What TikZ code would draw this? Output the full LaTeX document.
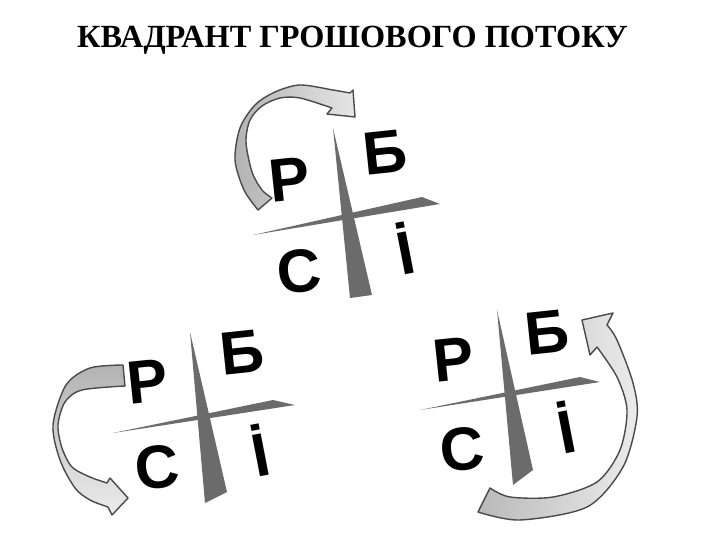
\documentclass[tikz,border=0pt]{standalone}
\usepackage{fontspec}
\setmainfont{Liberation Serif}
\newfontfamily\lettfont{Liberation Sans}
\definecolor{wedgegray}{HTML}{6B6B6B}
\definecolor{bandline}{HTML}{4A4A4A}
\tikzset{
  letter/.style={font=\lettfont\bfseries\fontsize{61}{61}\selectfont, inner sep=0pt, rotate=6},
  iletter/.style={letter, rotate=5},
  wedge/.style={fill=wedgegray, draw=none},
  band/.style={draw=bandline, line width=1.4pt, line join=round},
}
\begin{document}
\begin{tikzpicture}[x=1pt,y=-1pt]
\useasboundingbox (0,0) rectangle (720,540);
\fill[white] (0,0) rectangle (720,540);

\node[font=\bfseries\fontsize{32.3}{32.3}\selectfont, inner sep=0pt] (title) at (352.5,40) {КВАДРАНТ ГРОШОВОГО ПОТОКУ};

% top group
\fill[wedge] (333,128) -- (350,298) -- (372,295) -- cycle;
\fill[wedge] (253,235) -- (422,197) -- (440,204) -- cycle;
\node[letter] (p1) at (290,180) {Р};
\node[letter] (b1) at (385,152) {Б};
\node[letter] (s1) at (299,271) {С};
\node[iletter] (i1) at (405,248) {İ};

% left group
\fill[wedge] (190,332) -- (205,503) -- (227,492) -- cycle;
\fill[wedge] (113,433) -- (273,400) -- (295,405) -- cycle;
\node[letter] (p2) at (148,382) {Р};
\node[letter] (b2) at (242,352) {Б};
\node[letter] (s2) at (157,467) {С};
\node[iletter] (i2) at (260,450) {İ};

% right group
\fill[wedge] (497,310) -- (513,485) -- (533,470) -- cycle;
\fill[wedge] (420,410) -- (580,377) -- (600,382) -- cycle;
\node[letter] (p3) at (454,360) {Р};
\node[letter] (b3) at (547,332) {Б};
\node[letter] (s3) at (462,449) {С};
\node[iletter] (i3) at (566,427) {İ};

% arrows
\draw[band, left color=gray!60, right color=gray!20]
  plot[smooth] coordinates {(258,210) (244,190) (235,160) (240,128) (255,105) (275,92) (300,85) (333,90) (350,93)}
  -- (353,90) -- (355,117) -- (327,114) -- (332,108)
  -- plot[smooth] coordinates {(332,108) (300,98) (280,98) (262,106) (250,120) (246,142) (252,172) (262,190) (272,198)}
  -- cycle;

\draw[band, top color=gray!60, bottom color=gray!15]
  plot[smooth] coordinates {(123,365) (90,368) (66,385) (53,425) (60,460) (75,488) (90,500) (108,507)}
  -- (112,515) -- (128,498) -- (110,478) -- (107,483)
  -- plot[smooth] coordinates {(107,483) (90,477) (72,467) (62,448) (58,425) (65,402) (82,390) (125,386)}
  -- cycle;

\draw[band, left color=gray!55, right color=gray!15]
  plot[smooth] coordinates {(478,512) (520,520) (587,507) (623,467) (637,417) (633,383) (617,340) (607,325)}
  -- (613,313) -- (582,320) -- (590,355) -- (597,347)
  -- plot[smooth] coordinates {(597,347) (617,377) (627,410) (620,450) (597,482) (553,497) (510,497) (490,488)}
  -- cycle;
\end{tikzpicture}
\end{document}
